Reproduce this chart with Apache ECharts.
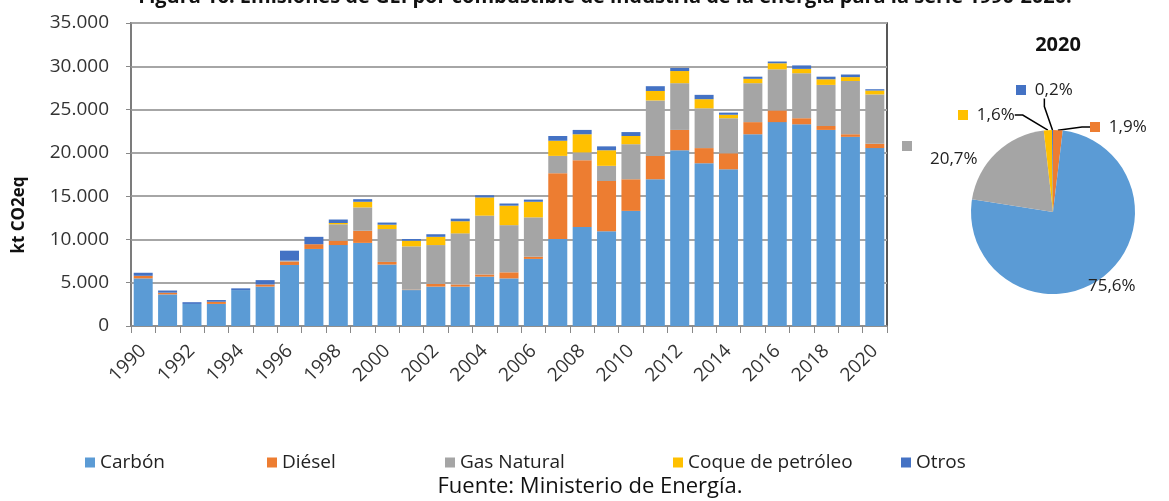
<!DOCTYPE html>
<head>
    <meta charset="utf-8">
    <title>Emisiones de GEI por combustible</title>
    <script src="https://cdn.jsdelivr.net/npm/echarts@6/dist/echarts.min.js"></script>
</head>
<body style="margin:0">
<div id="main" style="width:1169px;height:501px"></div>
<script type="text/javascript">
    // años
    var years = ['1990','1991','1992','1993','1994','1995','1996','1997','1998','1999','2000',
        '2001','2002','2003','2004','2005','2006','2007','2008','2009','2010',
        '2011','2012','2013','2014','2015','2016','2017','2018','2019','2020'];
    // kt CO2eq por combustible
    var carbon = [5500,3650,2550,2550,4150,4550,7050,8900,9350,9600,7100,4150,4550,4550,5700,5500,7750,10050,11450,10950,13300,16950,20300,18800,18100,22150,23550,23300,22650,21850,20550];
    var diesel = [300,200,0,250,0,250,400,550,500,1400,300,50,300,250,250,700,250,7600,7700,5800,3650,2700,2350,1750,1850,1400,1350,700,450,300,500];
    var gasNatural = [0,0,0,0,0,0,100,0,1900,2700,3800,5000,4500,5900,6800,5450,4550,2000,900,1750,4050,6400,5400,4600,4050,4500,4750,5200,4750,6150,5700];
    var coque = [0,0,0,0,0,0,0,0,150,650,500,650,950,1400,2100,2250,1800,1750,2100,1800,950,1100,1400,1050,400,500,700,500,650,450,450];
    var otros = [350,250,200,200,200,500,1150,850,400,300,250,200,300,300,250,250,250,550,500,450,450,550,350,500,250,250,200,400,300,300,150];
    var yTicks = [0,5000,10000,15000,20000,25000,30000,35000];

    // torta 2020 (%), en orden horario desde arriba
    var pieNames = ['Diésel','Carbón','Gas Natural','Coque de petróleo','Otros'];
    var pieShares = [1.9,75.6,20.7,1.6,0.2];

    var names = ['Carbón','Diésel','Gas Natural','Coque de petróleo','Otros'];
    var colors = {'Carbón':'#5B9BD5','Diésel':'#ED7D31','Gas Natural':'#A5A5A5','Coque de petróleo':'#FFC000','Otros':'#4472C4'};
    var font = 'Open Sans';

    function miles(v){
        return String(v).replace(/\B(?=(\d{3})+(?!\d))/g, '.');
    }

    var myChart = echarts.init(document.getElementById('main'));

    var seriesData = [carbon, diesel, gasNatural, coque, otros];
    var series = names.map(function(n, i){
        return {
            name: n, type: 'bar', stack: 'total', barWidth: 19,
            itemStyle: {color: colors[n]},
            data: seriesData[i]
        };
    });

    // posiciones de las etiquetas de la torta
    var labelPos = [
        {x:1090, y:127, v:'middle'},
        {x:1088, y:286, v:'middle'},
        {x:902, y:141, v:'top'},
        {x:958, y:115, v:'middle'},
        {x:1016, y:90, v:'middle'}
    ];

    series.push({
        type: 'pie',
        center: [1053, 212],
        radius: 82,
        startAngle: 90,
        clockwise: true,
        legendHoverLink: false,
        data: pieNames.map(function(n, i){
            var small = pieShares[i] < 5;
            return {
                name: n, value: pieShares[i],
                itemStyle: {color: colors[n]},
                labelLine: {show: small, lineStyle: {color:'#000', width:1.5}, length: 12, length2: 8}
            };
        }),
        label: {
            show: true, overflow: 'none',
            fontFamily: font, fontSize: 17, color: '#222',
            formatter: function(p){
                var txt = p.value.toFixed(1).replace('.', ',') + '%';
                var sq = '{' + ['d','c','g','q','o'][p.dataIndex] + '|}';
                if (p.name === 'Gas Natural') return sq + '\n{p|}{v|' + txt + '}';
                if (p.name === 'Carbón') return '{v|' + txt + '}';
                return sq + '  {v|' + txt + '}';
            },
            rich: {
                d: {width:10, height:10, backgroundColor: colors['Diésel']},
                c: {width:10, height:10, backgroundColor: colors['Carbón']},
                g: {width:10, height:10, backgroundColor: colors['Gas Natural']},
                q: {width:10, height:10, backgroundColor: colors['Coque de petróleo']},
                o: {width:10, height:10, backgroundColor: colors['Otros']},
                p: {width:28},
                v: {fontFamily: font, fontSize: 17, color:'#222'}
            }
        },
        labelLayout: function(params){
            var pos = labelPos[params.dataIndex];
            return {x: pos.x, y: pos.y, align: 'left', verticalAlign: pos.v};
        }
    });

    var legendLeft = [80, 262, 440, 668, 896];
    var legends = names.map(function(n, i){
        return {
            data: [n], left: legendLeft[i], top: 448,
            icon: 'rect', itemWidth: 10, itemHeight: 10, itemGap: 8,
            textStyle: {fontFamily: font, fontSize: 19, color: '#222'}
        };
    });

    var option = {
        animation: false,
        backgroundColor: '#fff',
        title: [
            {text: 'Figura 16: Emisiones de GEI por combustible de industria de la energía para la serie 1990-2020.',
             left: 600, textAlign: 'center', top: -18,
             textStyle: {fontFamily: font, fontSize: 20, fontWeight: 'bold', color: '#111'}},
            {text: '2020', left: 1053, textAlign: 'center', top: 30,
             textStyle: {fontFamily: font, fontSize: 20, fontWeight: 'bold', color: '#111'}},
            {text: 'Fuente: Ministerio de Energía.', left: 585, textAlign: 'center', top: 471,
             textStyle: {fontFamily: font, fontSize: 22, fontWeight: 'normal', color: '#111'}}
        ],
        graphic: [{
            type: 'text', x: 19, y: 215, rotation: Math.PI / 2,
            style: {text: 'kt CO2eq', fontFamily: font, fontSize: 17, fontWeight: 'bold',
                fill: '#111', align: 'center', verticalAlign: 'middle'}
        }],
        legend: legends,
        grid: {
            left: 131, right: 282, top: 23, bottom: 175,
            show: true, borderColor: '#222', borderWidth: 1.5
        },
        xAxis: {
            type: 'category',
            data: years,
            axisLine: {lineStyle: {color: '#888', width: 1.5}},
            axisTick: {show: true, interval: 0, length: 7, lineStyle: {color: '#888'}},
            axisLabel: {interval: 1, rotate: 45, fontFamily: font, fontSize: 19, color: '#333', margin: 22}
        },
        yAxis: {
            type: 'value',
            min: yTicks[0], max: yTicks[yTicks.length - 1], interval: 5000,
            axisLine: {show: true, lineStyle: {color: '#888', width: 1.5}},
            axisTick: {show: true, length: 5, lineStyle: {color: '#888'}},
            axisLabel: {fontFamily: font, fontSize: 19, color: '#333', margin: 22, formatter: miles},
            splitLine: {lineStyle: {color: '#A6A6A6', width: 2}}
        },
        series: series
    };

    myChart.setOption(option);
</script>
</body>
